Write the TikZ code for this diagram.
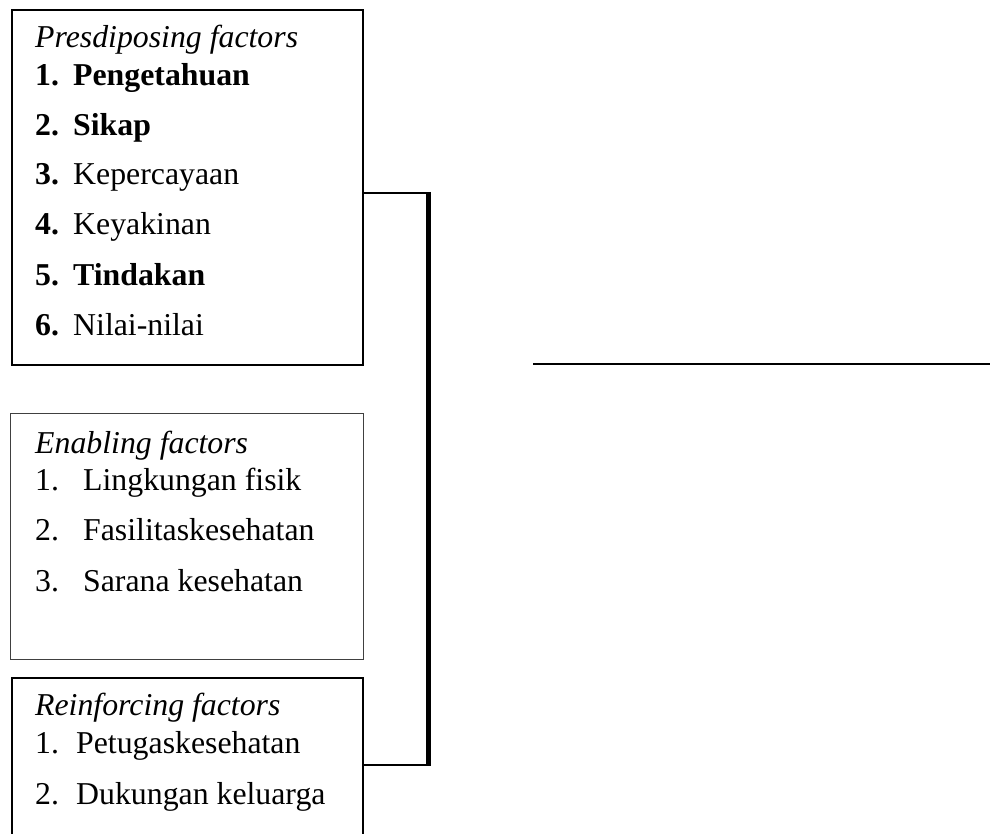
\documentclass[tikz,border=0pt]{standalone}
\usepackage{fontspec}
\setmainfont{Liberation Serif}

\begin{document}
\begin{tikzpicture}[x=1pt,y=-1pt,
  every node/.style={font=\fontsize{31.8}{38}\selectfont,inner sep=0pt,anchor=base west},
  box/.style={draw,line width=1.8pt,anchor=north west,inner sep=0pt},
  thinbox/.style={box,line width=1.1pt,draw=black!75},
  link/.style={line width=2.6pt},
  bus/.style={line width=5.5pt}]
  \useasboundingbox (0,0) rectangle (990,834);
  % factor boxes
  \node[box,minimum width=351pt,minimum height=355pt] (pbox) at (11,9) {};
  \node[thinbox,minimum width=353pt,minimum height=246pt] (ebox) at (10,413) {};
  \node[box,minimum width=351pt,minimum height=190pt] (rbox) at (11,677) {};
  % predisposing
  \node (ptitle) at (35,48) {\textit{Presdiposing factors}};
  \node (p1) at (35,86) {\makebox[38pt][l]{\textbf{1.}}\textbf{Pengetahuan}};
  \node (p2) at (35,136) {\makebox[38pt][l]{\textbf{2.}}\textbf{Sikap}};
  \node (p3) at (35,185) {\makebox[38pt][l]{\textbf{3.}}Kepercayaan};
  \node (p4) at (35,235) {\makebox[38pt][l]{\textbf{4.}}Keyakinan};
  \node (p5) at (35,286) {\makebox[38pt][l]{\textbf{5.}}\textbf{Tindakan}};
  \node (p6) at (35,335) {\makebox[38pt][l]{\textbf{6.}}Nilai-nilai};
  % enabling
  \node (etitle) at (35,453) {\textit{Enabling factors}};
  \node (e1) at (35,490) {\makebox[48pt][l]{1.}Lingkungan fisik};
  \node (e2) at (35,540) {\makebox[48pt][l]{2.}Fasilitaskesehatan};
  \node (e3) at (35,591) {\makebox[48pt][l]{3.}Sarana kesehatan};
  % reinforcing
  \node (rtitle) at (35,715) {\textit{Reinforcing factors}};
  \node (r1) at (35,753) {\makebox[41pt][l]{1.}Petugaskesehatan};
  \node (r2) at (35,804) {\makebox[41pt][l]{2.}Dukungan keluarga};
  % connector
  \coordinate (ktop) at (431,193);
  \coordinate (kbot) at (431,765);
  \coordinate (btop) at (428.5,192);
  \coordinate (bbot) at (428.5,766);
  \draw[link] (pbox.east |- ktop) -- (ktop);
  \draw[link] (rbox.east |- kbot) -- (kbot);
  \draw[bus] (btop) -- (bbot);
  % outcome line
  \coordinate (oleft) at (533,364);
  \coordinate (oright) at (990,364);
  \draw[link] (oleft) -- (oright);
\end{tikzpicture}
\end{document}
